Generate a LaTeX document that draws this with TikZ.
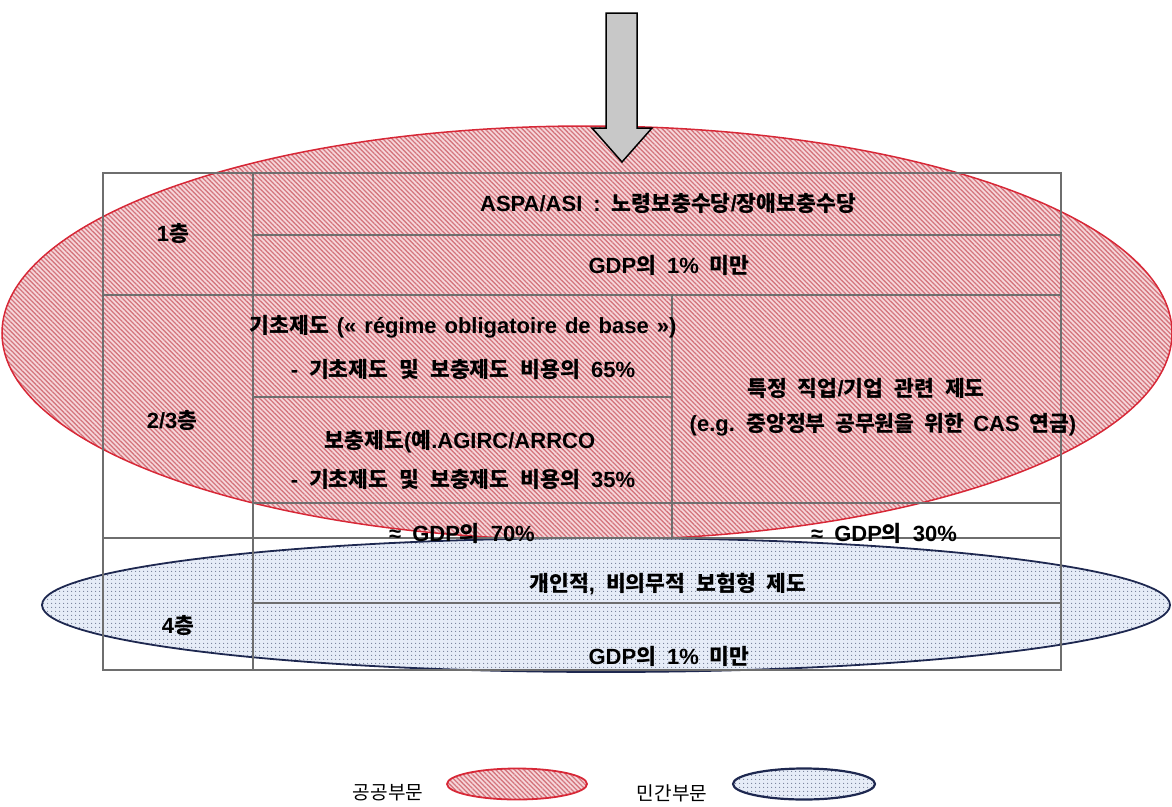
\documentclass[tikz,border=0pt]{standalone}
\usepackage{fontspec}
\setmainfont{Liberation Sans}
\newfontfamily\krfont{Noto Sans CJK KR}[Scale=0.98]
\usetikzlibrary{patterns.meta,shapes.geometric}
% automatic switch to the Korean font for Hangul syllables
\XeTeXinterchartokenstate=1
\newXeTeXintercharclass\krclass
\count255="AC00
\loop
  \XeTeXcharclass\count255=\krclass
  \ifnum\count255<"D7A3 \advance\count255 by 1
\repeat
\XeTeXinterchartoks 0 \krclass = {\begingroup\krfont}
\XeTeXinterchartoks 4095 \krclass = {\begingroup\krfont}
\XeTeXinterchartoks \krclass 0 = {\endgroup}
\XeTeXinterchartoks \krclass 4095 = {\endgroup}
\newcommand\lblfont{\fontsize{22}{26}\selectfont\bfseries\spaceskip 11pt\relax}
\newcommand\legfont{\fontsize{19.5}{23}\selectfont}
\definecolor{redline}{RGB}{215,40,55}
\definecolor{redfill}{RGB}{246,214,218}
\definecolor{redstripe}{RGB}{212,118,126}
\definecolor{blueline}{RGB}{30,40,80}
\definecolor{bluefill}{RGB}{230,236,247}
\definecolor{bluedot}{RGB}{115,125,150}
\definecolor{tablegray}{RGB}{110,110,110}
\definecolor{arrowgray}{RGB}{200,200,200}
\begin{document}
\begin{tikzpicture}[x=1pt,y=-1pt,
  redell/.style={draw=redline, line width=1.5pt, preaction={fill=redfill},
    pattern={Lines[angle=-45,distance=3.3pt,line width=1.3pt]}, pattern color=redstripe},
  blueell/.style={draw=blueline, line width=1.8pt, preaction={fill=bluefill},
    pattern={Dots[distance=4pt,radius=0.7pt]}, pattern color=bluedot},
  grid/.style={draw=tablegray, line width=1.2pt},
  lbl/.style={font=\lblfont, inner sep=0pt, text=black},
  leg/.style={font=\legfont, inner sep=0pt, text=black},
  bigarrow/.style={draw=black, line width=1.5pt, fill=arrowgray, line join=miter}]
\useasboundingbox (0,0) rectangle (1172,806);

% sector ellipses
\path[redell] (587,333) ellipse [x radius=585pt, y radius=207pt];
\path[blueell] (606,605) ellipse [x radius=564pt, y radius=67pt];

% table grid
\draw[grid] (103,173) rectangle (1061,670);
\draw[grid] (253,173) -- (253,670);
\draw[grid] (253,235) -- (1061,235);
\draw[grid] (103,295) -- (1061,295);
\draw[grid] (672,295) -- (672,538);
\draw[grid] (253,397) -- (672,397);
\draw[grid] (253,503) -- (1061,503);
\draw[grid] (103,538) -- (1061,538);
\draw[grid] (253,603) -- (1061,603);

% downward arrow
\path[bigarrow] (606,13) -- (637,13) -- (637,128) -- (652,128) -- (622,162) -- (592,128) -- (606,128) -- cycle;

% texts
\node[lbl] (l1) at (173,233) {1층};
\node[lbl] (aspa) at (668,203) {ASPA/ASI : 노령보충수당/장애보충수당};
\node[lbl] (gdp1) at (669,265) {GDP의 1\% 미만};
\node[lbl] (l23) at (172,420) {2/3층};
\node[lbl] (base1) at (463,327) {\spaceskip 8pt\relax 기초제도 (« régime obligatoire de base »)};
\node[lbl] (base2) at (463,369) {- 기초제도 및 보충제도 비용의 65\%};
\node[lbl] (comp1) at (460,442) {보충제도(예.AGIRC/ARRCO};
\node[lbl] (comp2) at (463,479) {- 기초제도 및 보충제도 비용의 35\%};
\node[lbl] (spec1) at (866,388) {특정 직업/기업 관련 제도};
\node[lbl] (spec2) at (883,425) {\spaceskip 9.5pt\relax (e.g. 중앙정부 공무원을 위한 CAS 연금)};
\node[lbl] (gdp70) at (462,533) {≈ GDP의 70\%};
\node[lbl] (gdp30) at (884,533) {≈ GDP의 30\%};
\node[lbl] (priv) at (668,584) {개인적, 비의무적 보험형 제도};
\node[lbl] (l4) at (178,625) {4층};
\node[lbl] (gdp1b) at (669,656) {GDP의 1\% 미만};

% legend
\node[leg] (legpubtxt) at (388,793) {공공부문};
\node[ellipse, redell, line width=1.8pt, minimum width=140pt, minimum height=31pt, inner sep=0pt] (legpub) at (517,784) {};
\node[leg] (legprivtxt) at (672,793) {민간부문};
\node[ellipse, blueell, line width=2.2pt, minimum width=142pt, minimum height=31pt, inner sep=0pt] (legpriv) at (804,784) {};
\end{tikzpicture}
\end{document}
